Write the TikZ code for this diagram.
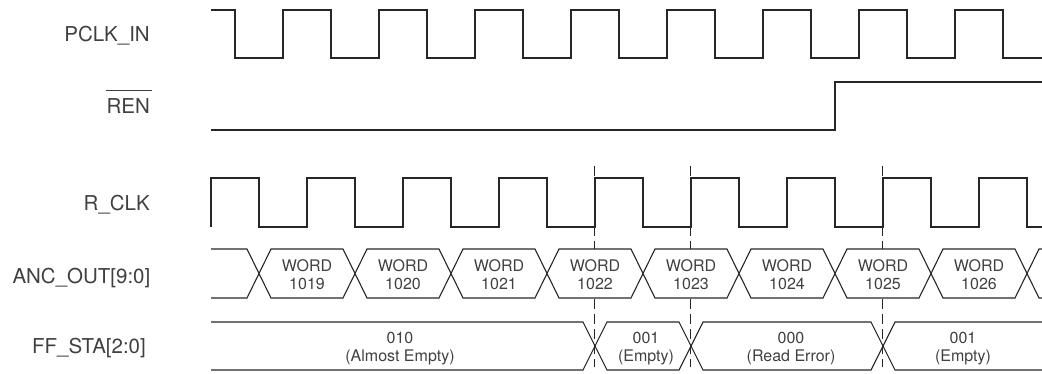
\documentclass[tikz,border=0pt]{standalone}
\usepackage{fontspec}
\setmainfont{TeX Gyre Heros}
\usetikzlibrary{calc}
\tikzset{
  wave/.style={line width=1.1pt, draw=black!85, line join=miter},
  guide/.style={line width=1.1pt, draw=black!85, dash pattern=on 10pt off 5pt},
  siglabel/.style={font=\fontsize{20.5}{24}\selectfont, text=black!75, inner sep=0pt, anchor=base east},
  buslabel/.style={font=\fontsize{16}{19}\selectfont, text=black!75, inner sep=0pt, anchor=base},
}
\begin{document}
\begin{tikzpicture}[x=1pt,y=-1pt]
\useasboundingbox (0,0) rectangle (1042,373);

% signal names
\node[siglabel] (pclk) at (150,41.7) {PCLK\_IN};
\node[siglabel] (ren) at (150,113.3) {REN};
\draw[line width=1pt, draw=black!75] ($(ren.north west)+(0,-7.5)$) -- ($(ren.north east)+(2,-7.5)$);
\node[siglabel] (rclk) at (150,210) {R\_CLK};
\node[siglabel] (anc) at (150.5,283.3) {ANC\_OUT[9:0]};
\node[siglabel] (ffsta) at (146,353.3) {FF\_STA[2:0]};

% PCLK_IN
\draw[wave] (211,10) foreach \k in {0,...,7} { -- ({235+96*\k},10) -- ({235+96*\k},58) -- ({283+96*\k},58) -- ({283+96*\k},10) } -- (1003,10) -- (1003,58) -- (1042,58);

% REN
\draw[wave] (211,130) -- (835,130) -- (835,82) -- (1042,82);

% R_CLK
\draw[wave] (211,227) -- (211,178) foreach \k in {0,...,7} { -- ({259+96*\k},178) -- ({259+96*\k},227) -- ({307+96*\k},227) -- ({307+96*\k},178) } -- (1027,178) -- (1027,227) -- (1042,227);

% ANC_OUT bus
\draw[wave] (211,249) foreach \j in {0,...,3} { -- ({247+192*\j},249) -- ({271+192*\j},298) -- ({343+192*\j},298) -- ({367+192*\j},249) } -- (1015,249) -- (1039,298) -- (1042,298);
\draw[wave] (211,298) foreach \j in {0,...,3} { -- ({247+192*\j},298) -- ({271+192*\j},249) -- ({343+192*\j},249) -- ({367+192*\j},298) } -- (1015,298) -- (1039,249) -- (1042,249);

\foreach \k/\w in {0/1019,1/1020,2/1021,3/1022,4/1023,5/1024,6/1025,7/1026} {
  \node[buslabel] (word\k) at ({307+96*\k},271) {WORD};
  \node[buslabel] (num\k) at ({307+96*\k},289) {\w};
}

% FF_STA bus
\draw[wave] (211,322) -- (583,322) -- (607,370) -- (679,370) -- (703,322) -- (871,322) -- (895,370) -- (1042,370);
\draw[wave] (211,370) -- (583,370) -- (607,322) -- (679,322) -- (703,370) -- (871,370) -- (895,322) -- (1042,322);

\node[buslabel] (ffa1) at (400,343) {010};
\node[buslabel] (ffa2) at (400,361) {(Almost Empty)};
\node[buslabel] (ffb1) at (646,343) {001};
\node[buslabel] (ffb2) at (646,361) {(Empty)};
\node[buslabel] (ffc1) at (791,343) {000};
\node[buslabel] (ffc2) at (791,361) {(Read Error)};
\node[buslabel] (ffd1) at (963,343) {001};
\node[buslabel] (ffd2) at (963,361) {(Empty)};

% dashed guides
\foreach \x in {594.5,690.5,882.5} {
  \draw[guide] (\x,166) -- (\x,249);
  \draw[guide] (\x,299) -- (\x,367);
}
\end{tikzpicture}
\end{document}
